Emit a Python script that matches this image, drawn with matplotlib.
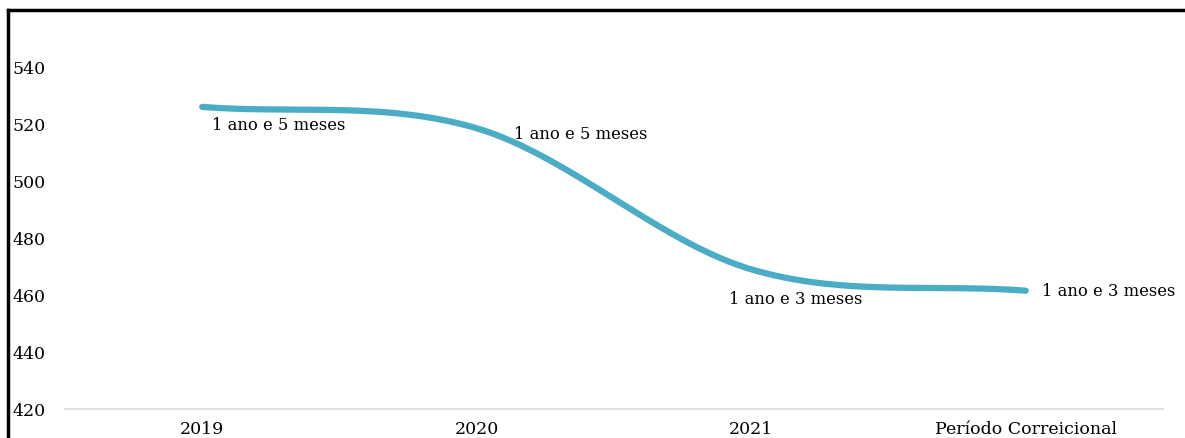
import numpy as np
import matplotlib.pyplot as plt
from matplotlib.lines import Line2D

categories = ["2019", "2020", "2021", "Período Correicional"]
values = [526, 518.5, 469, 461.5]
labels = ["1 ano e 5 meses", "1 ano e 5 meses", "1 ano e 3 meses", "1 ano e 3 meses"]
# offsets in pixels (x, y) for each data label
label_pos = [(10, -18), (37, -5), (-22, -29), (16, 0)]


def catmull_rom(x, y, n=60):
    # smooth curve through the points, like a spreadsheet "smoothed line"
    px = np.concatenate([[2 * x[0] - x[1]], x, [2 * x[-1] - x[-2]]])
    py = np.concatenate([[2 * y[0] - y[1]], y, [2 * y[-1] - y[-2]]])
    xs, ys = [], []
    t = np.linspace(0, 1, n)
    for i in range(1, len(px) - 2):
        for p, out in ((px, xs), (py, ys)):
            p0, p1, p2, p3 = p[i - 1], p[i], p[i + 1], p[i + 2]
            out.append(0.5 * (2 * p1 + (-p0 + p2) * t
                              + (2 * p0 - 5 * p1 + 4 * p2 - p3) * t ** 2
                              + (-p0 + 3 * p1 - 3 * p2 + p3) * t ** 3))
    return np.concatenate(xs), np.concatenate(ys)


plt.rcParams['font.family'] = ['DejaVu Serif']

fig = plt.figure(figsize=(11.85, 4.39), dpi=100)
ax = fig.add_axes([65 / 1185, 29 / 439, 1098 / 1185, 399 / 439])

x = np.arange(len(categories))
sx, sy = catmull_rom(x.astype(float), np.array(values, dtype=float))
ax.plot(sx, sy, color="#4BACC6", lw=4.5, solid_capstyle="round")

for xi, v, lab, (dx, dy) in zip(x, values, labels, label_pos):
    ax.annotate(lab, (xi, v), xytext=(dx, dy), textcoords="offset pixels",
                ha="left", va="center", fontsize=11.8, color="black")

ax.set_xlim(-0.5, len(categories) - 0.5)
ax.set_ylim(420, 560)
ax.set_yticks(range(420, 541, 20))
ax.set_xticks(x)
ax.set_xticklabels(categories)
ax.tick_params(axis="both", length=0, labelsize=12.5, colors="black")
ax.tick_params(axis="x", pad=8)
for lab in ax.get_yticklabels():
    lab.set_horizontalalignment("left")
    lab.set_x(-48 / 1098)

for s in ["top", "right", "left"]:
    ax.spines[s].set_visible(False)
ax.spines["bottom"].set_color("#D9D9D9")
ax.spines["bottom"].set_linewidth(1.2)

# outer chart frame (top and left edges visible)
fig.add_artist(Line2D([8 / 1185, 1], [1 - 11 / 439, 1 - 11 / 439],
                      transform=fig.transFigure, color="black", lw=2.5))
fig.add_artist(Line2D([8 / 1185, 8 / 1185], [0, 1 - 11 / 439],
                      transform=fig.transFigure, color="black", lw=2.5))

fig.savefig("out.png", dpi=100)
